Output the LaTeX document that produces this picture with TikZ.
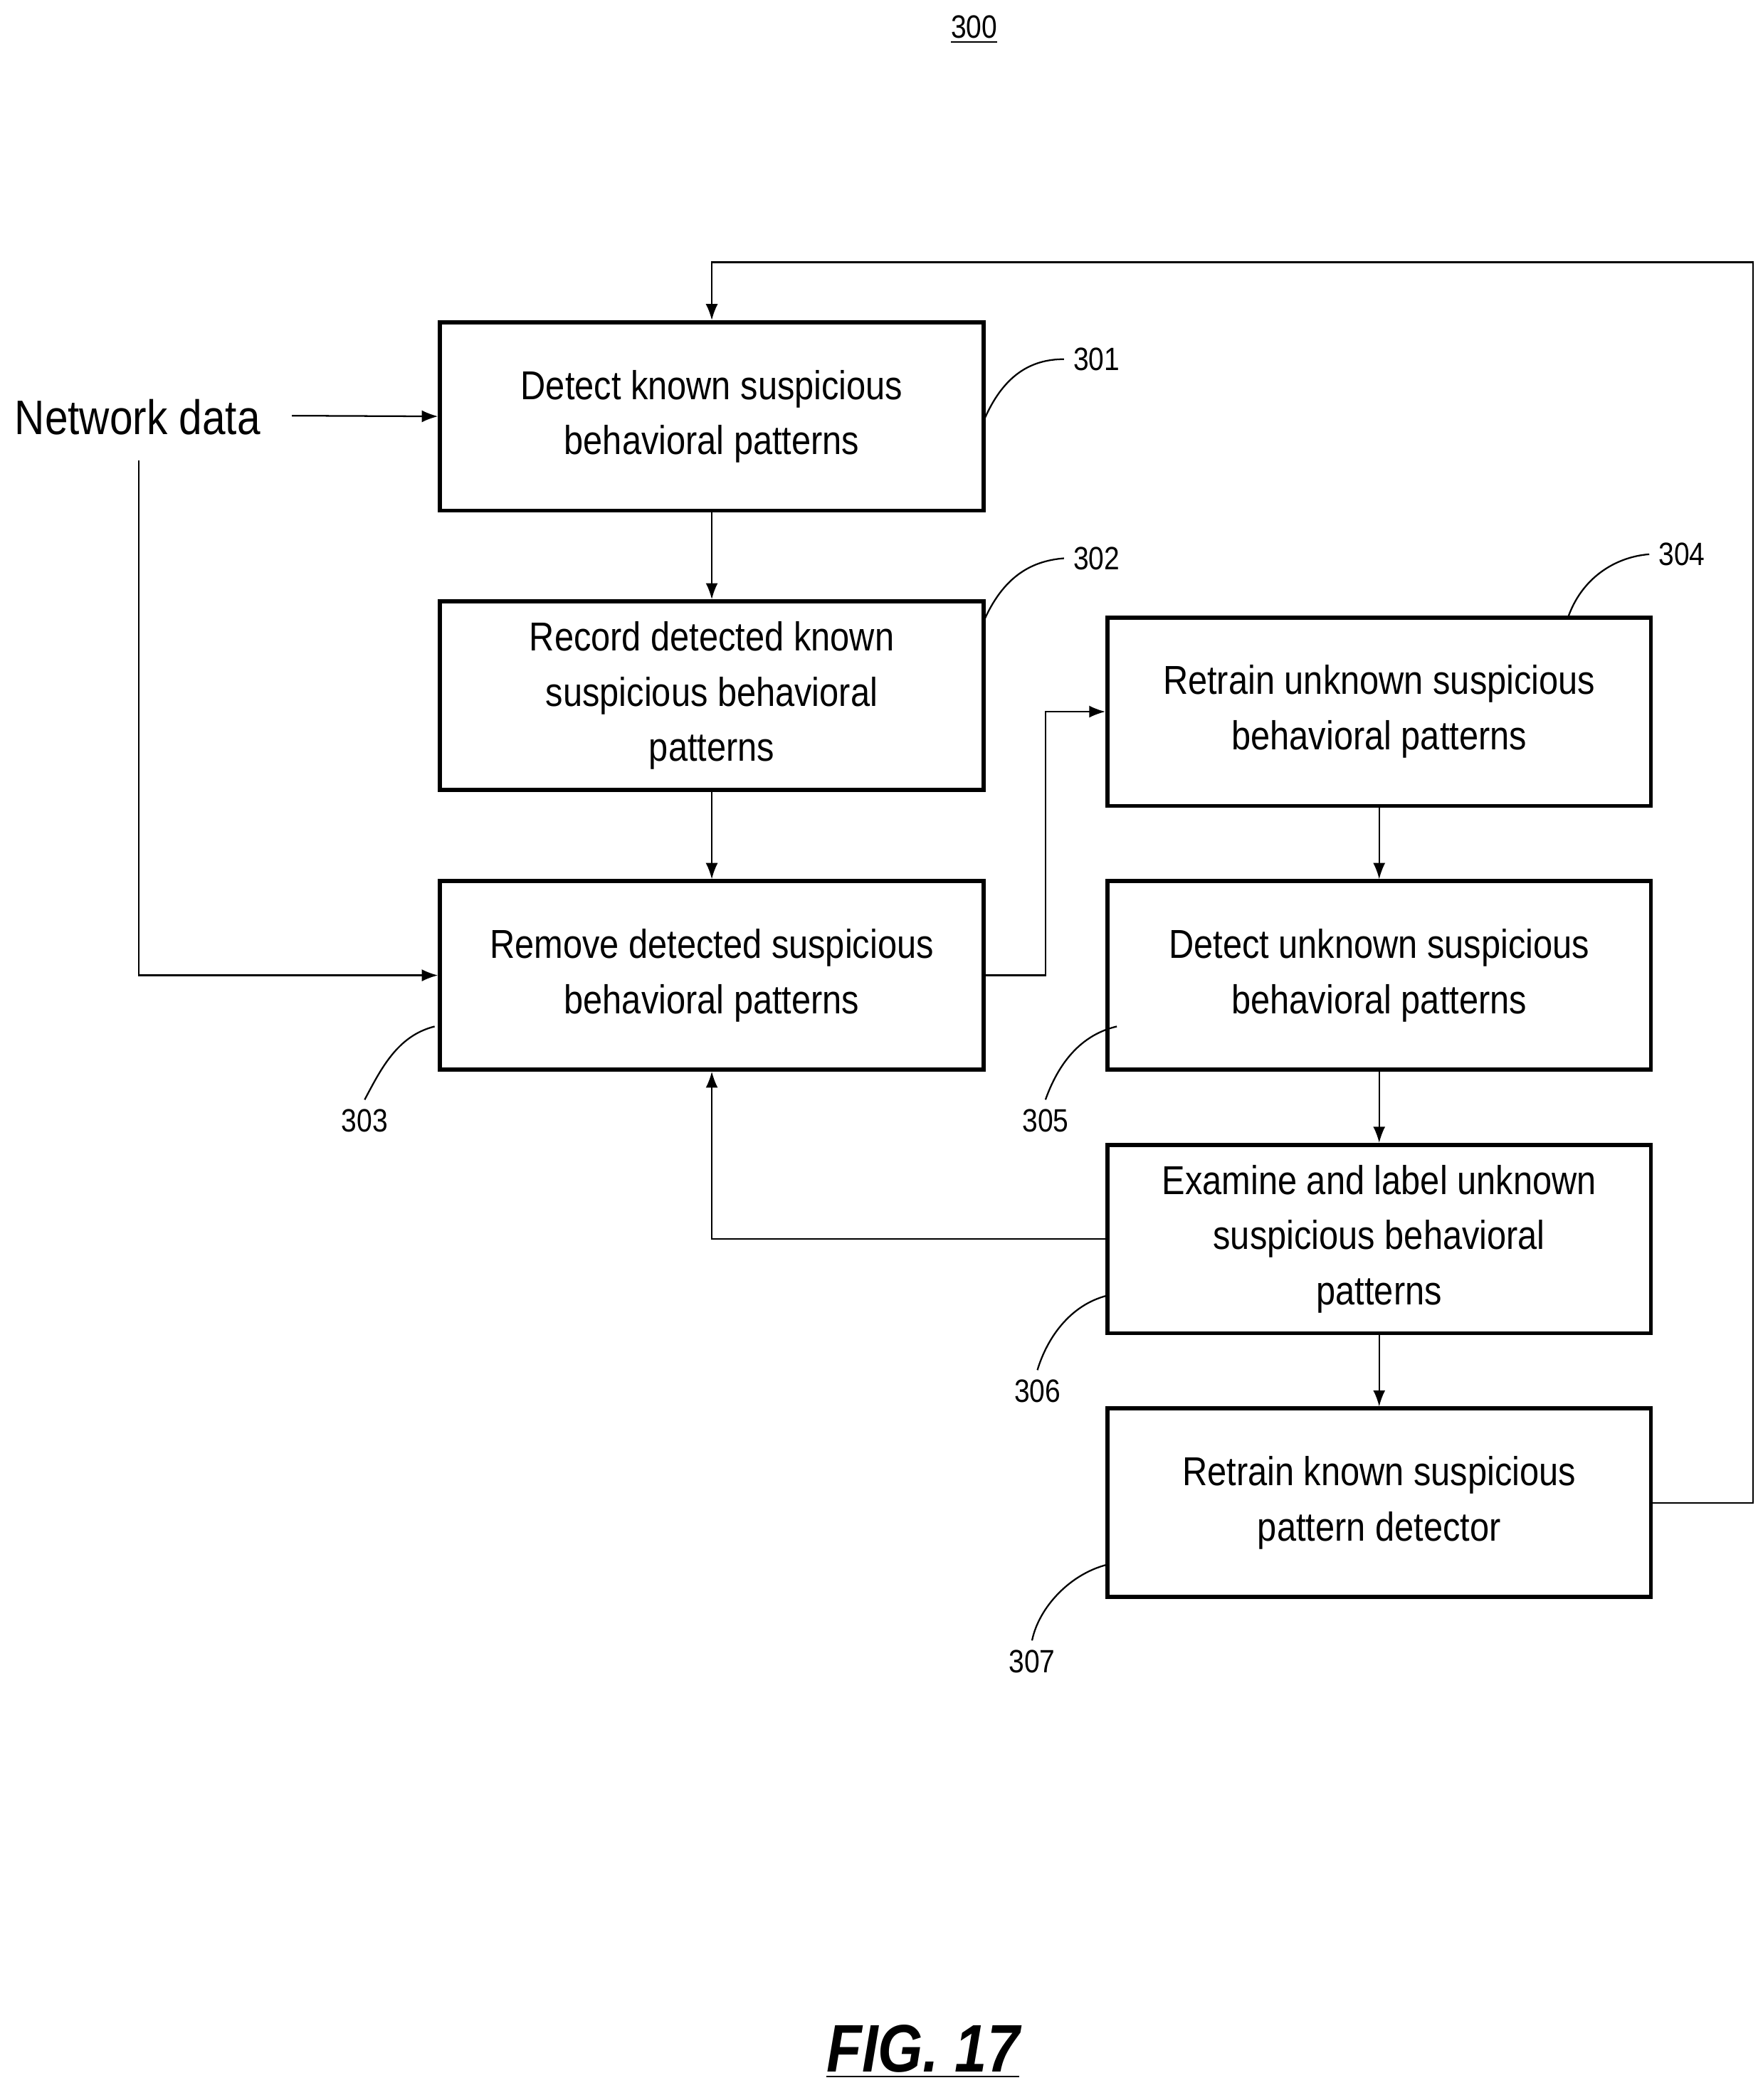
\documentclass[tikz,border=0pt]{standalone}
\usepackage{fontspec}
\setmainfont{Liberation Sans}[FakeStretch=0.86]
\usetikzlibrary{arrows.meta}
\begin{document}
\begin{tikzpicture}[x=0.5pt,y=-0.5pt,
  box/.style={draw,line width=1.5pt,minimum width=202pt,minimum height=70pt,align=center,font=\fontsize{15}{20.5}\selectfont,inner sep=0pt},
  conn/.style={line width=0.6pt,-{Latex[length=6pt,width=4.5pt]}},
  lead/.style={line width=0.6pt},
  num/.style={font=\fontsize{12}{14}\selectfont}]
\useasboundingbox (0,0) rectangle (1310,1561);
\node[box] (b1) at (529,309.5) {Detect known suspicious\\behavioral patterns};
\node[box] (b2) at (529,517) {Record detected known\\suspicious behavioral\\patterns};
\node[box] (b3) at (529,725) {Remove detected suspicious\\behavioral patterns};
\node[box] (b4) at (1025,529) {Retrain unknown suspicious\\behavioral patterns};
\node[box] (b5) at (1025,725) {Detect unknown suspicious\\behavioral patterns};
\node[box] (b6) at (1025,921) {Examine and label unknown\\suspicious behavioral\\patterns};
\node[box] (b7) at (1025,1117) {Retrain known suspicious\\pattern detector};
\node[font=\fontsize{12}{14}\selectfont] (t300) at (724,22) {\underline{300}};
\node[font=\fontsize{18}{20}\selectfont,anchor=west] (nd) at (4,310) {Network data};
\node[font=\fontsize{25}{28}\selectfont\bfseries\itshape] (fig) at (686,1525) {\underline{FIG. 17}};
\coordinate (ndr) at (217,309);
\coordinate (ndb) at (103,342);
\draw[conn] (ndr) -- (b1.west);
\draw[conn] (ndb) |- (b3.west);
\draw[conn] (b1) -- (b2);
\draw[conn] (b2) -- (b3);
\draw[conn] (b4) -- (b5);
\draw[conn] (b5) -- (b6);
\draw[conn] (b6) -- (b7);
\draw[conn] (b3.east) -- (777,725) |- (b4.west);
\draw[conn] (b6.west) -| (b3.south);
\draw[conn] (b7.east) -- (1303,1117) |- (529,195) -- (b1.north);
% reference labels
\node[num] (n301) at (815,267) {301};
\node[num] (n302) at (815,415) {302};
\node[num] (n304) at (1250,412) {304};
\node[num] (n303) at (271,833) {303};
\node[num] (n305) at (777,833) {305};
\node[num] (n306) at (771,1034) {306};
\node[num] (n307) at (767,1235) {307};
\draw[lead] (731,313) .. controls (745,280) and (765,267) .. (n301.west);
\draw[lead] (731,462) .. controls (745,430) and (765,417) .. (n302.west);
\draw[lead] (1165,460) .. controls (1175,430) and (1200,414) .. (n304.west);
\draw[lead] (323,763) .. controls (295,770) and (283,795) .. (n303.north);
\draw[lead] (830,763) .. controls (800,770) and (785,795) .. (n305.north);
\draw[lead] (823,963) .. controls (795,970) and (778,995) .. (n306.north);
\draw[lead] (823,1163) .. controls (795,1170) and (772,1195) .. (n307.north);
\end{tikzpicture}
\end{document}
